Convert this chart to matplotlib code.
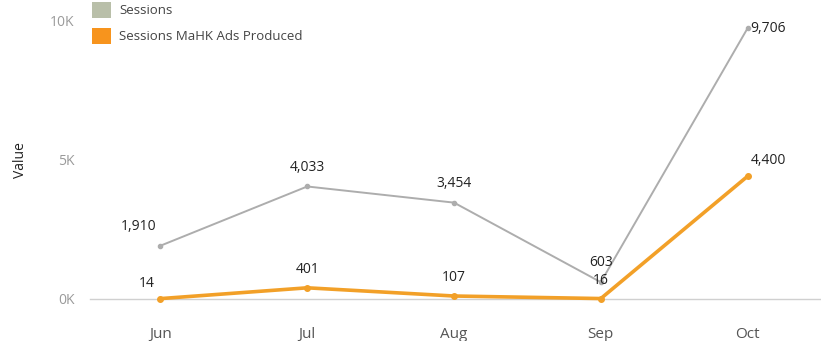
import matplotlib
matplotlib.use("Agg")
import matplotlib.pyplot as plt
from matplotlib.patches import Patch
from matplotlib.ticker import FuncFormatter

months = ["Jun", "Jul", "Aug", "Sep", "Oct"]
sessions = [1910, 4033, 3454, 603, 9706]
sessions_ads = [14, 401, 107, 16, 4400]
series_names = ["Sessions", "Sessions MaHK Ads Produced"]

gray = "#adadad"
gray_legend = "#b9bfa9"
orange = "#f2a028"
orange_legend = "#f7941d"
text_col = "#222222"
tick_col = "#9a9a9a"

plt.rcParams["font.family"] = ["Open Sans", "DejaVu Sans"]

fig = plt.figure(figsize=(8.21, 3.41), dpi=100)
ax = fig.add_axes([90 / 821, (341 - 299) / 341, 731 / 821, 279 / 341])

x = list(range(len(months)))
ax.plot(x, sessions, color=gray, lw=1.4, marker="o", ms=3, clip_on=False, zorder=3)
ax.plot(x, sessions_ads, color=orange, lw=2.6, marker="o", ms=4, clip_on=False, zorder=4)

# value labels above each point; the last month is labelled to the right
def label(xi, v, dx, dy):
    ax.annotate(f"{v:,}", (xi, v), xytext=(dx, dy), textcoords="offset points",
                ha="center", va="center", fontsize=10, color=text_col, zorder=5)

for i, v in enumerate(sessions):
    if i == 0:
        label(i, v, -16, 14)
    elif i == len(months) - 1:
        label(i, v, 15, 0)
    else:
        label(i, v, 0, 14)
for i, v in enumerate(sessions_ads):
    if i == 0:
        label(i, v, -10, 11)
    elif i == len(months) - 1:
        label(i, v, 15, 11)
    else:
        label(i, v, 0, 13)

ax.set_xlim(-0.48, 4.5)
ax.set_ylim(0, 10000)
ax.set_xticks(x)
ax.set_xticklabels(months, fontsize=11, color="#555555")
ax.set_yticks([0, 5000, 10000])
ax.yaxis.set_major_formatter(FuncFormatter(lambda v, p: f"{int(v / 1000)}K"))
ax.tick_params(axis="x", length=0, pad=20)
ax.tick_params(axis="y", length=0, pad=11, labelsize=10, labelcolor=tick_col)
for s in ["top", "right", "left"]:
    ax.spines[s].set_visible(False)
ax.spines["bottom"].set_color("#d0d0d0")
ax.spines["bottom"].set_linewidth(1)
ax.set_facecolor("none")

fig.text(20 / 821, 1 - 160 / 341, "Value", rotation=90, ha="center", va="center",
         fontsize=10, color=text_col)

handles = [Patch(facecolor=gray_legend, edgecolor="none"),
           Patch(facecolor=orange_legend, edgecolor="none")]
fig.legend(handles, series_names, loc="upper left", bbox_to_anchor=(92 / 821, 1 - 2 / 341),
           frameon=False, fontsize=9.5, handlelength=1.45, handleheight=1.45,
           handletextpad=0.6, labelspacing=0.8, borderpad=0, borderaxespad=0,
           labelcolor="#444444")

fig.savefig("out.png", dpi=100)
